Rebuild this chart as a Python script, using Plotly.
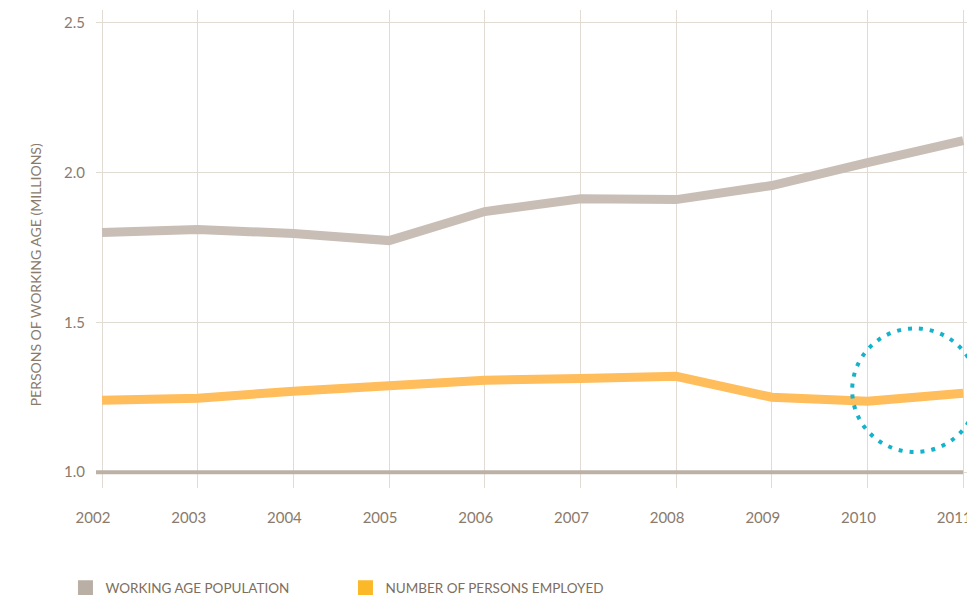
import plotly.graph_objects as go

years = [2002, 2003, 2004, 2005, 2006, 2007, 2008, 2009, 2010, 2011]
working_age = [1.80, 1.81, 1.797, 1.773, 1.87, 1.913, 1.91, 1.957, 2.033, 2.107]
employed = [1.24, 1.247, 1.27, 1.287, 1.307, 1.313, 1.32, 1.25, 1.237, 1.263]
y_ticks = [1.0, 1.5, 2.0, 2.5]

GREY = '#c8beb5'
ORANGE = '#ffbd5c'
TEXT = '#8a7b6c'
GRID = '#e2dbd4'
FONT = 'Lato'

fig = go.Figure()

fig.add_trace(go.Scatter(
    x=years, y=working_age, mode='lines', showlegend=False,
    line=dict(color=GREY, width=9),
))
fig.add_trace(go.Scatter(
    x=years, y=employed, mode='lines', showlegend=False,
    line=dict(color=ORANGE, width=9),
))

# legend entries as squares
fig.add_trace(go.Scatter(
    x=[None], y=[None], mode='markers', name='WORKING AGE POPULATION',
    marker=dict(symbol='square', size=15, color='#b9afa5'),
))
fig.add_trace(go.Scatter(
    x=[None], y=[None], mode='markers', name='NUMBER OF PERSONS EMPLOYED',
    marker=dict(symbol='square', size=15, color='#fbb829'),
))

x_lo, x_hi = 2001.937, 2011.04

# baseline at 1.0
fig.add_shape(type='line', xref='x', yref='y', x0=x_lo, x1=2011, y0=1.0, y1=1.0,
              line=dict(color='#bcb1a6', width=4))

# dotted highlight circle
fig.add_shape(type='circle', xref='x', yref='y',
              x0=2009.84, x1=2011.15, y0=1.067, y1=1.48,
              line=dict(color='#14b2cb', width=4, dash='4px,7px'))

fig.add_annotation(
    text='PERSONS OF WORKING AGE (MILLIONS)', textangle=-90,
    xref='paper', yref='paper', x=-0.07, y=0.445,
    xanchor='center', yanchor='middle', showarrow=False,
    font=dict(family=FONT, size=14, color=TEXT),
)

fig.update_xaxes(
    type='linear', range=[x_lo, x_hi], tickvals=years, ticks='',
    showline=False, zeroline=False,
    showgrid=True, gridcolor=GRID, gridwidth=1,
    ticklabelstandoff=19, ticklabelshift=-9, ticklabeloverflow='allow',
    tickfont=dict(family=FONT, size=15, color=TEXT),
)
fig.update_yaxes(
    type='linear', range=[0.947, 2.543], tickvals=y_ticks, tickformat='.1f', ticks='',
    showline=False, zeroline=False, showgrid=True, gridcolor=GRID, gridwidth=1,
    ticklabelstandoff=10, tickfont=dict(family=FONT, size=15, color=TEXT),
)

fig.update_layout(
    width=967, height=595,
    margin=dict(l=96, r=0, t=10, b=107, autoexpand=False),
    plot_bgcolor='white', paper_bgcolor='white',
    font=dict(family=FONT, color=TEXT),
    legend=dict(
        orientation='h', x=0.0677, y=0.0118, xref='container', yref='container',
        xanchor='left', yanchor='middle',
        font=dict(family=FONT, size=13.5, color='#7d6e60'),
        entrywidth=235, entrywidthmode='pixels',
    ),
)

# drop the default page margin so the figure fills the window exactly
fig.write_html(
    'out.html',
    config={'displayModeBar': False},
    post_script="document.body.style.margin = '0';",
)
